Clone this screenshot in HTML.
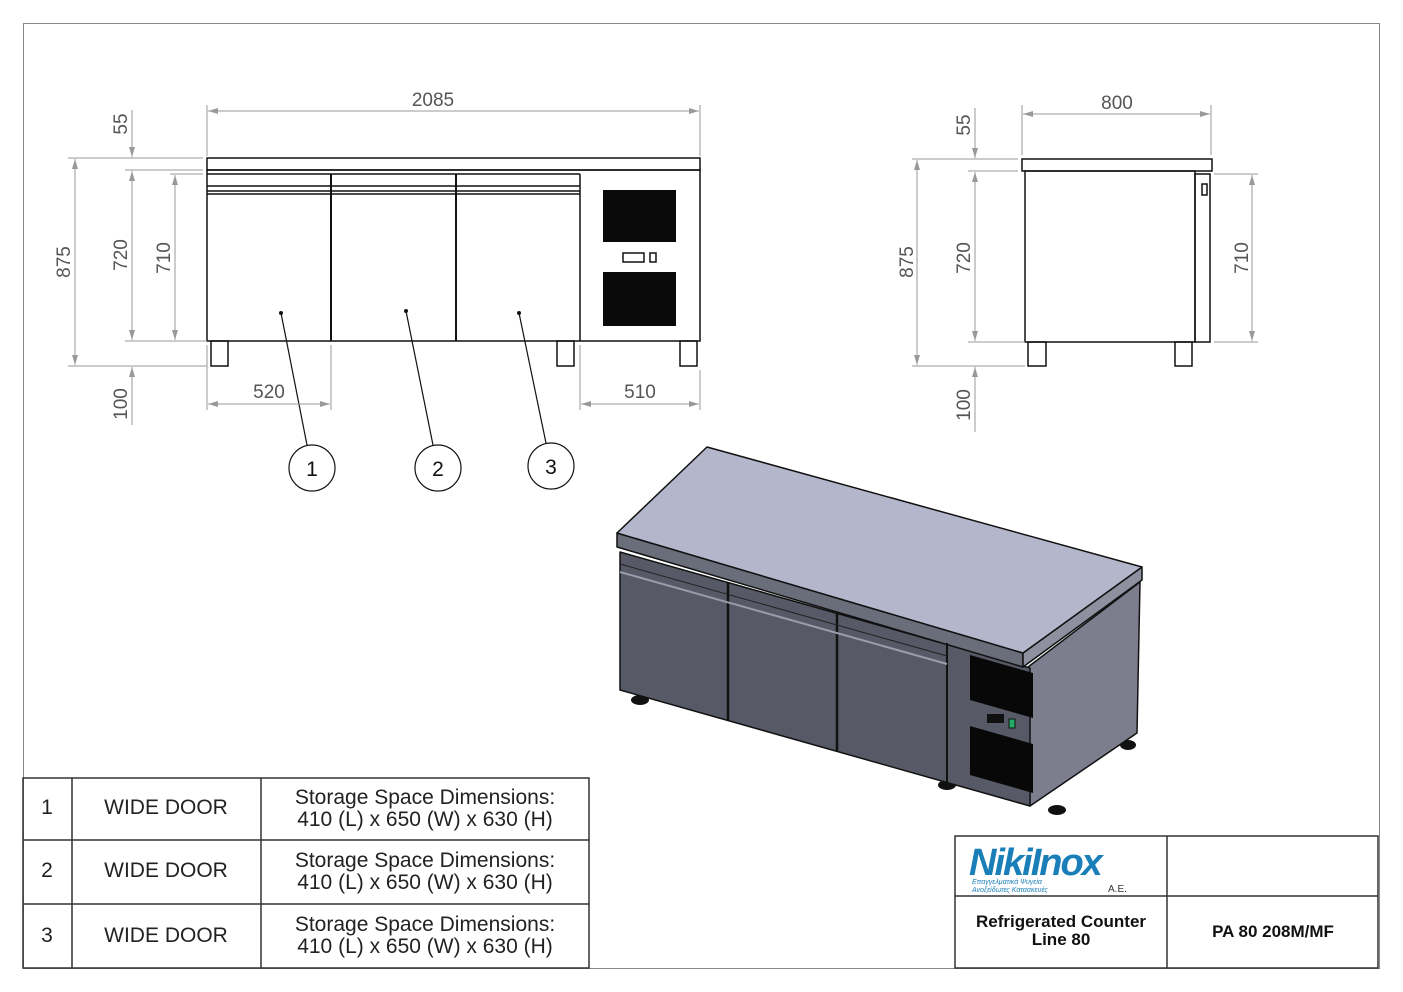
<!DOCTYPE html>
<html><head><meta charset="utf-8"><style>
html,body{margin:0;padding:0;background:#fff}
svg{display:block}
text{font-family:"Liberation Sans",sans-serif}
</style></head><body>
<svg width="1403" height="992" viewBox="0 0 1403 992" xmlns="http://www.w3.org/2000/svg">
<defs>
<marker id="a" viewBox="0 0 10 6" refX="10" refY="3" markerWidth="10" markerHeight="6" orient="auto-start-reverse" markerUnits="userSpaceOnUse"><path d="M0,0 L10,3 L0,6 z" fill="#999"/></marker>
</defs>
<rect x="23.5" y="23.5" width="1356" height="945" fill="none" stroke="#888" stroke-width="1"/>

<!-- FRONT VIEW -->
<g stroke="#111" fill="none" stroke-width="1.5">
<rect x="207" y="158" width="493" height="12"/>
<rect x="207" y="170" width="493" height="171"/>
<line x1="331" y1="174" x2="331" y2="341" stroke-width="2"/>
<line x1="456" y1="174" x2="456" y2="341" stroke-width="2"/>
<line x1="580" y1="174" x2="580" y2="341"/>
<line x1="207" y1="174" x2="580" y2="174"/>
<line x1="207" y1="186" x2="580" y2="186"/>
<line x1="207" y1="191" x2="580" y2="191"/>
<line x1="207" y1="194" x2="580" y2="194"/>
<rect x="211" y="341" width="17" height="25"/>
<rect x="557" y="341" width="17" height="25"/>
<rect x="680" y="341" width="17" height="25"/>
<rect x="623" y="253" width="21" height="9"/>
<rect x="650" y="253" width="6" height="9"/>
</g>
<rect x="603" y="190" width="73" height="52" fill="#0a0a0a"/>
<rect x="603" y="272" width="73" height="54" fill="#0a0a0a"/>
<g fill="#111">
<circle cx="281" cy="313" r="2"/><circle cx="406" cy="311" r="2"/><circle cx="519" cy="313" r="2"/>
</g>
<g stroke="#111" stroke-width="1.2" fill="none">
<line x1="281" y1="313" x2="307" y2="445"/>
<line x1="406" y1="311" x2="433" y2="445"/>
<line x1="519" y1="313" x2="546" y2="443"/>
<circle cx="312" cy="468" r="23"/>
<circle cx="438" cy="468" r="23"/>
<circle cx="551" cy="466" r="23"/>
</g>
<g font-size="21" fill="#111" text-anchor="middle">
<text x="312" y="476">1</text><text x="438" y="476">2</text><text x="551" y="474">3</text>
</g>

<!-- front dims -->
<g stroke="#999" stroke-width="1" fill="none">
<line x1="207" y1="105" x2="207" y2="156"/><line x1="700" y1="105" x2="700" y2="156"/>
<line x1="208" y1="111" x2="699" y2="111" marker-start="url(#a)" marker-end="url(#a)"/>
<line x1="68" y1="158" x2="203" y2="158"/><line x1="125" y1="170" x2="203" y2="170"/>
<line x1="125" y1="341" x2="207" y2="341"/><line x1="68" y1="366" x2="207" y2="366"/>
<line x1="75" y1="159" x2="75" y2="365" marker-start="url(#a)" marker-end="url(#a)"/>
<line x1="132" y1="110" x2="132" y2="157" marker-end="url(#a)"/>
<line x1="132" y1="171" x2="132" y2="340" marker-start="url(#a)" marker-end="url(#a)"/>
<line x1="132" y1="425" x2="132" y2="367" marker-end="url(#a)"/>
<line x1="170" y1="174" x2="203" y2="174"/>
<line x1="175" y1="175" x2="175" y2="340" marker-start="url(#a)" marker-end="url(#a)"/>
<line x1="207" y1="345" x2="207" y2="410"/><line x1="331" y1="345" x2="331" y2="410"/>
<line x1="208" y1="404" x2="330" y2="404" marker-start="url(#a)" marker-end="url(#a)"/>
<line x1="580" y1="345" x2="580" y2="410"/><line x1="700" y1="370" x2="700" y2="410"/>
<line x1="581" y1="404" x2="699" y2="404" marker-start="url(#a)" marker-end="url(#a)"/>
</g>
<g font-size="19" fill="#555" text-anchor="middle">
<text x="433" y="106">2085</text>
<text x="269" y="398">520</text>
<text x="640" y="398">510</text>
<text transform="translate(127,124) rotate(-90)">55</text>
<text transform="translate(70,262) rotate(-90)">875</text>
<text transform="translate(127,255) rotate(-90)">720</text>
<text transform="translate(170,258) rotate(-90)">710</text>
<text transform="translate(127,404) rotate(-90)">100</text>
</g>

<!-- SIDE VIEW -->
<g stroke="#111" fill="none" stroke-width="1.5">
<rect x="1022" y="159" width="190" height="12"/>
<rect x="1025" y="171" width="170" height="171"/>
<rect x="1195" y="174" width="15" height="168"/>
<rect x="1202" y="184" width="5" height="11"/>
<rect x="1028" y="342" width="18" height="24"/>
<rect x="1175" y="342" width="17" height="24"/>
</g>
<g stroke="#999" stroke-width="1" fill="none">
<line x1="1022" y1="105" x2="1022" y2="155"/><line x1="1211" y1="105" x2="1211" y2="155"/>
<line x1="1023" y1="114" x2="1210" y2="114" marker-start="url(#a)" marker-end="url(#a)"/>
<line x1="912" y1="159" x2="1018" y2="159"/><line x1="968" y1="171" x2="1018" y2="171"/>
<line x1="968" y1="342" x2="1025" y2="342"/><line x1="912" y1="366" x2="1025" y2="366"/>
<line x1="917" y1="160" x2="917" y2="365" marker-start="url(#a)" marker-end="url(#a)"/>
<line x1="975" y1="108" x2="975" y2="158" marker-end="url(#a)"/>
<line x1="975" y1="172" x2="975" y2="341" marker-start="url(#a)" marker-end="url(#a)"/>
<line x1="975" y1="432" x2="975" y2="367" marker-end="url(#a)"/>
<line x1="1214" y1="174" x2="1258" y2="174"/><line x1="1214" y1="342" x2="1258" y2="342"/>
<line x1="1252" y1="175" x2="1252" y2="341" marker-start="url(#a)" marker-end="url(#a)"/>
</g>
<g font-size="19" fill="#555" text-anchor="middle">
<text x="1117" y="109">800</text>
<text transform="translate(970,125) rotate(-90)">55</text>
<text transform="translate(913,262) rotate(-90)">875</text>
<text transform="translate(970,258) rotate(-90)">720</text>
<text transform="translate(1248,258) rotate(-90)">710</text>
<text transform="translate(970,405) rotate(-90)">100</text>
</g>

<!-- ISO VIEW -->
<g fill="#111">
<ellipse cx="640" cy="700" rx="9" ry="5"/>
<ellipse cx="947" cy="785" rx="9" ry="5"/>
<ellipse cx="1057" cy="810" rx="9" ry="5"/>
<ellipse cx="1128" cy="745" rx="8" ry="5"/>
</g>
<g stroke="#111" stroke-width="1.5" stroke-linejoin="round">
<polygon points="1028,667 1140,582 1137,733 1030,806" fill="#7c7e8e"/>
<polygon points="620,552 1030,668 1030,806 620,690" fill="#575a66"/>
<polygon points="617,533 1023,653 1023,667 617,547" fill="#6a6d7a"/>
<polygon points="1023,653 1142,567 1142,580 1023,667" fill="#8e90a0"/>
<polygon points="707,447 1142,567 1023,653 617,533" fill="#b4b6cb"/>
<line x1="728" y1="582" x2="728" y2="720" stroke-width="2.5"/>
<line x1="837" y1="612" x2="837" y2="751" stroke-width="2.5"/>
<line x1="947" y1="643" x2="947" y2="782" stroke-width="2"/>
<line x1="620" y1="564" x2="947" y2="656" stroke="#222" stroke-width="1"/>
<line x1="620" y1="572" x2="947" y2="664" stroke="#9a9cab" stroke-width="2"/>
</g>
<polygon points="970,655 1033,673 1033,718 970,700" fill="#080808"/>
<polygon points="970,726 1033,744 1033,793 970,775" fill="#080808"/>
<rect x="987" y="714" width="17" height="9" fill="#111"/>
<rect x="1009" y="719" width="6" height="9" fill="#2a6" stroke="#111"/>

<!-- TABLE -->
<g stroke="#333" stroke-width="1.5" fill="none">
<rect x="23" y="778" width="566" height="190"/>
<line x1="23" y1="840" x2="589" y2="840"/>
<line x1="23" y1="904" x2="589" y2="904"/>
<line x1="72" y1="778" x2="72" y2="968"/>
<line x1="261" y1="778" x2="261" y2="968"/>
</g>
<g font-size="21" fill="#222" text-anchor="middle">
<text x="47" y="814">1</text><text x="166" y="814">WIDE DOOR</text>
<text x="425" y="804">Storage Space Dimensions:</text><text x="425" y="826">410 (L) x 650 (W) x 630 (H)</text>
<text x="47" y="877">2</text><text x="166" y="877">WIDE DOOR</text>
<text x="425" y="867">Storage Space Dimensions:</text><text x="425" y="889">410 (L) x 650 (W) x 630 (H)</text>
<text x="47" y="942">3</text><text x="166" y="942">WIDE DOOR</text>
<text x="425" y="931">Storage Space Dimensions:</text><text x="425" y="953">410 (L) x 650 (W) x 630 (H)</text>
</g>

<!-- TITLE BLOCK -->
<g stroke="#333" stroke-width="1.5" fill="none">
<rect x="955" y="836" width="423" height="132"/>
<line x1="955" y1="896" x2="1378" y2="896"/>
<line x1="1167" y1="836" x2="1167" y2="968"/>
</g>
<text x="969" y="875" font-size="38" font-weight="bold" font-style="italic" fill="#1a7fb8" letter-spacing="-2">NikiInox</text>
<text x="972" y="884" font-size="7" font-style="italic" fill="#1a7fb8">Επαγγελματικά Ψυγεία</text>
<text x="972" y="892" font-size="7" font-style="italic" fill="#1a7fb8">Ανοξείδωτες Κατασκευές</text>
<text x="1108" y="892" font-size="10" fill="#333">A.E.</text>
<g font-size="17" font-weight="bold" fill="#111" text-anchor="middle">
<text x="1061" y="927">Refrigerated Counter</text>
<text x="1061" y="945">Line 80</text>
<text x="1273" y="937">PA 80 208M/MF</text>
</g>
</svg>
</body></html>
